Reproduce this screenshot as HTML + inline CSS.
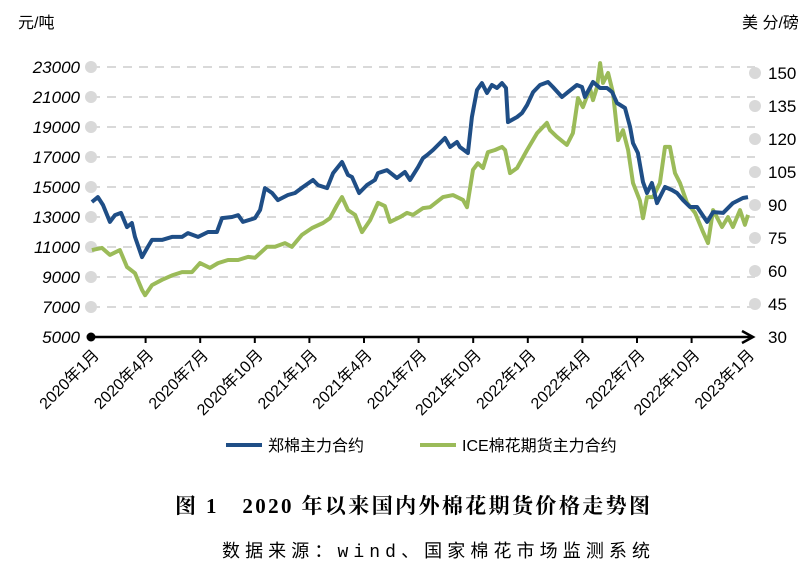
<!DOCTYPE html>
<html><head><meta charset="utf-8"><style>
body{margin:0;background:#fff;}
svg{display:block;}
</style></head><body>
<svg id="chart" width="812" height="578" viewBox="0 0 812 578" xmlns="http://www.w3.org/2000/svg" font-family="'Liberation Sans','Noto Sans CJK SC',sans-serif">
<text x="18" y="28" font-size="16" fill="#000">元/吨</text>
<text x="742" y="28" font-size="16" fill="#000">美 分/磅</text>
<g id="grid"></g>
<g id="axes"></g>
<g id="series"></g>
<g>
<line x1="226" y1="445" x2="262" y2="445" stroke="#1f4e86" stroke-width="4"/>
<text x="268" y="451" font-size="16">郑棉主力合约</text>
<line x1="420" y1="445" x2="456" y2="445" stroke="#9bbb59" stroke-width="4"/>
<text x="462" y="451" font-size="16">ICE棉花期货主力合约</text>
</g>
<text x="175" y="513" textLength="475" lengthAdjust="spacing" font-size="21" font-weight="bold" font-family="'Liberation Serif','Noto Serif CJK SC',serif">图 1　2020 年以来国内外棉花期货价格走势图</text>
<text x="222" y="557" textLength="428" lengthAdjust="spacing" font-size="18" font-family="'Liberation Mono','Noto Sans CJK SC',monospace">数据来源：wind、国家棉花市场监测系统</text>
</svg>
<script>
const leftTicks=[5000,7000,9000,11000,13000,15000,17000,19000,21000,23000];
const rightTicks=[30,45,60,75,90,105,120,135,150];
const xTickLabels=["2020年1月","2020年4月","2020年7月","2020年10月","2021年1月","2021年4月","2021年7月","2021年10月","2022年1月","2022年4月","2022年7月","2022年10月","2023年1月"];
const xTickMonths=[0,3,6,9,12,15,18,21,24,27,30,33,36];
const zceMonths=[0.05,0.38,0.66,1.04,1.32,1.65,1.98,2.25,2.42,2.80,3.08,3.35,3.90,4.45,5.00,5.33,5.88,6.43,6.92,7.20,7.75,8.08,8.35,9.01,9.29,9.56,9.95,10.27,10.82,11.21,11.65,12.20,12.47,12.97,13.30,13.79,14.12,14.34,14.73,15.16,15.60,15.77,16.26,16.81,17.25,17.53,17.97,18.24,18.46,18.79,19.45,19.73,20.11,20.27,20.71,20.93,21.21,21.48,21.76,22.03,22.31,22.58,22.80,22.91,23.41,23.68,23.96,24.29,24.67,25.11,25.38,25.88,26.21,26.70,26.98,27.14,27.58,27.97,28.35,28.63,28.90,29.34,29.62,29.78,30.05,30.33,30.55,30.82,31.10,31.26,31.54,31.92,32.20,32.53,32.91,33.30,33.85,34.18,34.73,35.27,35.82,36.10];
const zceValues=[14000,14330,13800,12670,13130,13270,12330,12600,11670,10330,10930,11470,11470,11670,11670,11930,11670,12000,12000,12930,13000,13130,12670,12930,13470,14930,14600,14130,14470,14600,15000,15470,15130,14930,15930,16670,15800,15670,14600,15130,15470,15930,16130,15600,16000,15470,16330,16930,17130,17470,18270,17670,18000,17670,17270,19670,21470,21930,21270,21800,21600,21930,21600,19330,19670,19930,20470,21330,21800,22000,21670,21000,21330,21800,21670,21000,22000,21600,21600,21330,20600,20270,19000,17930,17270,15330,14600,15270,13930,14330,15000,14800,14600,14130,13670,13670,12670,13330,13270,13930,14270,14330];
const iceMonths=[0.05,0.60,1.04,1.59,1.98,2.42,2.80,2.97,3.35,3.90,4.45,5.00,5.55,5.99,6.54,6.98,7.53,8.08,8.63,9.01,9.67,10.11,10.66,11.04,11.59,12.14,12.75,13.13,13.52,13.79,14.12,14.51,14.89,15.33,15.77,16.15,16.43,16.98,17.36,17.69,18.24,18.63,19.34,19.89,20.44,20.66,20.99,21.26,21.54,21.81,22.20,22.58,22.75,23.02,23.41,23.96,24.51,25.05,25.22,25.60,26.15,26.48,26.76,27.03,27.42,27.58,27.80,27.97,28.13,28.41,28.68,28.96,29.23,29.51,29.78,30.16,30.33,30.55,30.88,31.26,31.54,31.81,32.09,32.36,32.75,33.19,33.63,33.90,34.18,34.67,35.00,35.27,35.66,35.93,36.10];
const iceValues=[69.5,70.5,67.3,69.5,61.8,59,51.4,49,53.6,56,58,59.5,59.5,63.6,61.4,63.6,65,65,66.4,66,71,71,72.7,71,76.4,79.5,81.8,84,90,93.6,87.7,85.5,77.7,83,91,89.5,82.3,84.5,86.4,85.5,88.6,89,93.6,94.5,92.3,89,106,109,106.8,114,115,116.4,115,104.5,106.8,115,122.7,127.3,124,121,117.3,122.7,138.6,134.5,143,137.7,143.6,154.5,145.5,150,141,119.5,124,115,100,92,84,93.6,93.6,100,116.4,116.4,104.5,100,91,86.4,77.7,72.7,87.7,80,84.5,80,87.7,81,85.5];

const NS="http://www.w3.org/2000/svg";
const X0=91,XW=18.2,Y0=337;
function xScale(m){return X0+m*XW;}
function yLeft(v){return Y0-(v-5000)*0.015;}
function yRight(v){return Y0-(v-30)*2.2;}
function mk(tag,attrs,parent){const e=document.createElementNS(NS,tag);for(const k in attrs)e.setAttribute(k,attrs[k]);parent.appendChild(e);return e;}
const grid=document.getElementById('grid'),axes=document.getElementById('axes'),series=document.getElementById('series');
leftTicks.forEach(v=>{
  const y=yLeft(v);
  if(v!==5000){
    const g=mk('line',{x1:X0,y1:y,x2:755,y2:y,stroke:'#d9d9d9','stroke-width':2,'stroke-dasharray':'9 7'},grid);
    
    
    const c=mk('circle',{cx:X0,cy:y,r:6,fill:'#d9d9d9'},grid);
    
    
  }
  const t=mk('text',{x:80,y:y+6,'text-anchor':'end','font-size':17,'font-style':'italic',fill:'#000'},axes);
  t.textContent=v;
  
  
});
rightTicks.forEach(v=>{
  const y=yRight(v);
  if(v!==30){
    const c=mk('circle',{cx:755,cy:y,r:6,fill:'#d9d9d9'},grid);
    
    
  }
  const t=mk('text',{x:768,y:y+6,'font-size':17,fill:'#000'},axes);
  t.textContent=v;
  
  
});
const ax=mk('line',{x1:X0,y1:Y0,x2:752,y2:Y0,stroke:'#000','stroke-width':2.5},axes);


const ar=mk('path',{d:'M742 331 L753 337 L742 343',fill:'none',stroke:'#000','stroke-width':2.5},axes);


const dot=mk('circle',{cx:X0,cy:Y0,r:4.5,fill:'#000'},axes);


xTickMonths.forEach((m,i)=>{
  const x=xScale(m);
  if(i>0&&i<xTickMonths.length-1){
    const tk=mk('line',{x1:x,y1:Y0,x2:x,y2:Y0+6,stroke:'#000','stroke-width':2},axes);
    
    
  }
  const t=mk('text',{x:x+9,y:Y0+19,'text-anchor':'end','font-size':16,fill:'#000',transform:`rotate(-45 ${x+9} ${Y0+19})`},axes);
  t.textContent=xTickLabels[i];
  
  
});
function line(ms,vs,yf,color,name){
  const d=ms.map((m,i)=>(i?'L':'M')+xScale(m).toFixed(1)+' '+yf(vs[i]).toFixed(1)).join(' ');
  const p=mk('path',{d:d,fill:'none',stroke:color,'stroke-width':4,'stroke-linejoin':'round'},series);
  
  
}
line(iceMonths,iceValues,yRight,'#9bbb59','ice-line');
line(zceMonths,zceValues,yLeft,'#1f4e86','zce-line');
</script>
</body></html>
